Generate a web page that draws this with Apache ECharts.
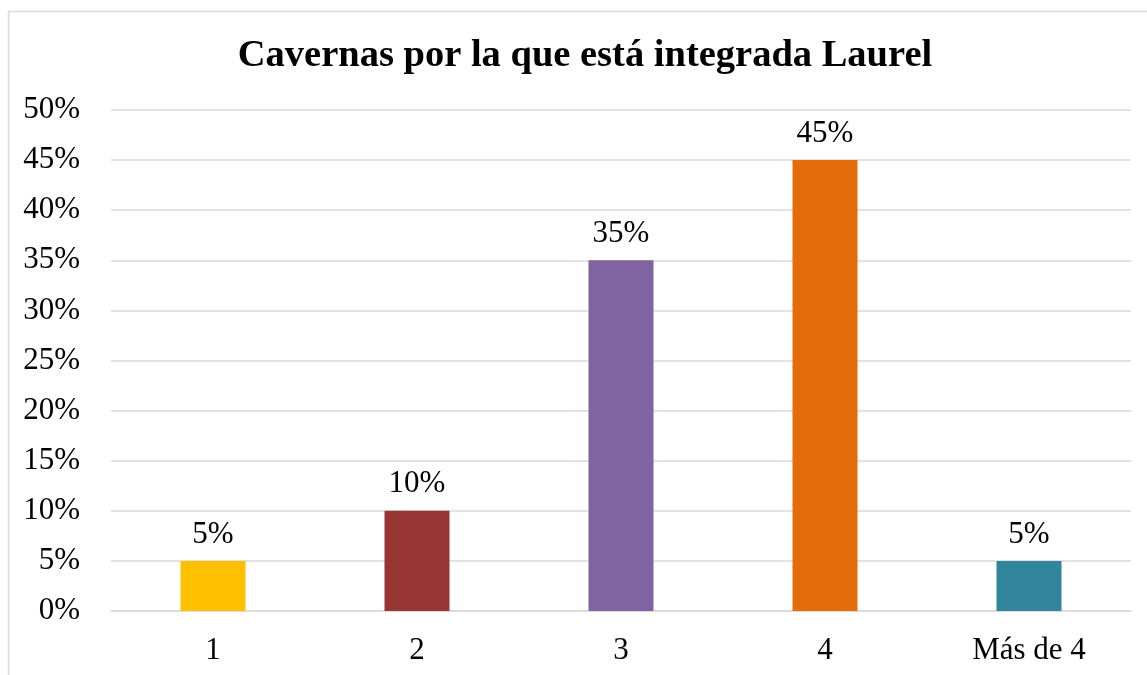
<!DOCTYPE html>
<html>
<head>
<meta charset="utf-8">
<script src="https://cdn.jsdelivr.net/npm/echarts@6/dist/echarts.min.js"></script>
<style>
  html, body { margin: 0; padding: 0; background: #fff; }
  #chart { width: 1147px; height: 675px; }
</style>
</head>
<body>
<div id="chart"></div>
<script>
var titleText = 'Cavernas por la que está integrada Laurel';
var categories = ['1', '2', '3', '4', 'Más de 4'];
var percents = [5, 10, 35, 45, 5];
var barColors = ['#FFC000', '#963634', '#8064A2', '#E46C0A', '#31859C'];
var yTicks = { min: 0, max: 50, step: 5 };

var serif = '"Liberation Serif", "DejaVu Serif", serif';
var chart = echarts.init(document.getElementById('chart'));

var option = {
    backgroundColor: '#fff',
    animation: false,
    title: {
        text: titleText,
        left: 580,
        top: 32,
        textAlign: 'center',
        textStyle: { fontFamily: serif, fontWeight: 'bold', fontSize: 38.5, color: '#000' }
    },
    graphic: [{
        type: 'rect',
        shape: { x: 8.5, y: 11.5, width: 1200, height: 700 },
        style: { fill: 'none', stroke: '#D9D9D9', lineWidth: 1.5 },
        silent: true
    }],
    grid: { left: 111, right: 16, top: 110, bottom: 64 },
    xAxis: {
        type: 'category',
        data: categories,
        axisLine: { show: true, lineStyle: { color: '#D9D9D9', width: 1.5 } },
        axisTick: { show: false },
        axisLabel: { fontFamily: serif, fontSize: 31, color: '#000', margin: 24 }
    },
    yAxis: {
        type: 'value',
        min: yTicks.min,
        max: yTicks.max,
        interval: yTicks.step,
        axisLine: { show: false },
        axisTick: { show: false },
        splitLine: { lineStyle: { color: '#D9D9D9', width: 1.5 } },
        axisLabel: { fontFamily: serif, fontSize: 31, color: '#000', margin: 31, formatter: '{value}%' }
    },
    series: [{
        type: 'bar',
        barWidth: 65,
        data: percents.map(function (v, i) {
            return { value: v, itemStyle: { color: barColors[i] } };
        }),
        label: {
            show: true,
            position: 'top',
            distance: 11,
            fontFamily: serif,
            fontSize: 31,
            color: '#000',
            formatter: '{c}%'
        }
    }]
};
chart.setOption(option);
</script>
</body>
</html>
